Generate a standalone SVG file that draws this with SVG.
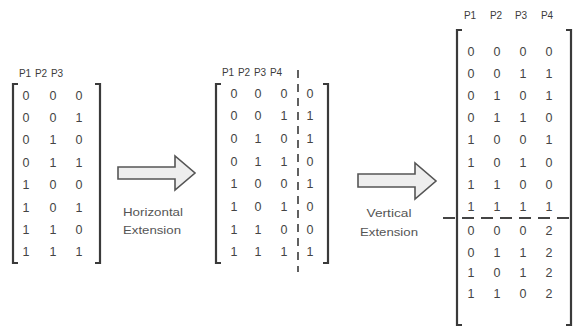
<svg xmlns="http://www.w3.org/2000/svg" width="576" height="328" viewBox="0 0 576 328">
<style>
.bg{fill:#ffffff}
.br{fill:none;stroke:#3a3a3a;stroke-width:2.2}
.hd{font-family:"Liberation Sans",Arial,sans-serif;font-size:10px;fill:#3c3c3c;text-anchor:middle}
.d{font-family:"Liberation Sans",Arial,sans-serif;font-size:12.5px;fill:#444;text-anchor:middle}
.lb{font-family:"Liberation Sans",Arial,sans-serif;font-size:10.5px;fill:#555;text-anchor:middle}
.ar{fill:#eeeeee;stroke:#555;stroke-width:1.6;stroke-linejoin:miter}
.dv{stroke:#3a3a3a;stroke-width:1.6;stroke-dasharray:8 6;fill:none}
.dh{stroke:#444;stroke-width:1.8;stroke-dasharray:12 7;fill:none}
</style>
<rect class="bg" x="0" y="0" width="576" height="328"/>

<g id="matrix-left">
  <path class="br" d="M18,84 H13 V263 H18"/>
  <path class="br" d="M95,84 H100 V263 H95"/>
  <text class="hd" x="25" y="77">P1</text>
  <text class="hd" x="41" y="77">P2</text>
  <text class="hd" x="57" y="77">P3</text>
  <g class="d">
    <text x="26" y="99.5">0</text><text x="53" y="99.5">0</text><text x="79" y="99.5">0</text>
    <text x="26" y="121.9">0</text><text x="53" y="121.9">0</text><text x="79" y="121.9">1</text>
    <text x="26" y="144.3">0</text><text x="53" y="144.3">1</text><text x="79" y="144.3">0</text>
    <text x="26" y="166.7">0</text><text x="53" y="166.7">1</text><text x="79" y="166.7">1</text>
    <text x="26" y="189.1">1</text><text x="53" y="189.1">0</text><text x="79" y="189.1">0</text>
    <text x="26" y="211.5">1</text><text x="53" y="211.5">0</text><text x="79" y="211.5">1</text>
    <text x="26" y="233.9">1</text><text x="53" y="233.9">1</text><text x="79" y="233.9">0</text>
    <text x="26" y="256.3">1</text><text x="53" y="256.3">1</text><text x="79" y="256.3">1</text>
  </g>
</g>

<g id="matrix-middle">
  <path class="br" d="M221,84 H216 V263 H221"/>
  <path class="br" d="M323,84 H328 V263 H323"/>
  <text class="hd" x="228" y="76">P1</text>
  <text class="hd" x="244" y="76">P2</text>
  <text class="hd" x="260" y="76">P3</text>
  <text class="hd" x="276" y="76">P4</text>
  <line class="dv" x1="298" y1="70" x2="298" y2="272"/>
  <g class="d">
    <text x="234" y="97.5">0</text><text x="258" y="97.5">0</text><text x="284" y="97.5">0</text><text x="310" y="97.5">0</text>
    <text x="234" y="120.2">0</text><text x="258" y="120.2">0</text><text x="284" y="120.2">1</text><text x="310" y="120.2">1</text>
    <text x="234" y="142.9">0</text><text x="258" y="142.9">1</text><text x="284" y="142.9">0</text><text x="310" y="142.9">1</text>
    <text x="234" y="165.6">0</text><text x="258" y="165.6">1</text><text x="284" y="165.6">1</text><text x="310" y="165.6">0</text>
    <text x="234" y="188.3">1</text><text x="258" y="188.3">0</text><text x="284" y="188.3">0</text><text x="310" y="188.3">1</text>
    <text x="234" y="211">1</text><text x="258" y="211">0</text><text x="284" y="211">1</text><text x="310" y="211">0</text>
    <text x="234" y="233.7">1</text><text x="258" y="233.7">1</text><text x="284" y="233.7">0</text><text x="310" y="233.7">0</text>
    <text x="234" y="256.4">1</text><text x="258" y="256.4">1</text><text x="284" y="256.4">1</text><text x="310" y="256.4">1</text>
  </g>
</g>

<g id="matrix-right">
  <path class="br" d="M462,30 H457 V325 H462"/>
  <path class="br" d="M566,30 H571 V325 H566"/>
  <text class="hd" x="470" y="19">P1</text>
  <text class="hd" x="496" y="19">P2</text>
  <text class="hd" x="521" y="19">P3</text>
  <text class="hd" x="547" y="19">P4</text>
  <line class="dh" x1="443" y1="218" x2="576" y2="218"/>
  <g class="d">
    <text x="471" y="55.5">0</text><text x="497" y="55.5">0</text><text x="523" y="55.5">0</text><text x="549" y="55.5">0</text>
    <text x="471" y="77.7">0</text><text x="497" y="77.7">0</text><text x="523" y="77.7">1</text><text x="549" y="77.7">1</text>
    <text x="471" y="99.9">0</text><text x="497" y="99.9">1</text><text x="523" y="99.9">0</text><text x="549" y="99.9">1</text>
    <text x="471" y="122.1">0</text><text x="497" y="122.1">1</text><text x="523" y="122.1">1</text><text x="549" y="122.1">0</text>
    <text x="471" y="144.3">1</text><text x="497" y="144.3">0</text><text x="523" y="144.3">0</text><text x="549" y="144.3">1</text>
    <text x="471" y="166.5">1</text><text x="497" y="166.5">0</text><text x="523" y="166.5">1</text><text x="549" y="166.5">0</text>
    <text x="471" y="188.7">1</text><text x="497" y="188.7">1</text><text x="523" y="188.7">0</text><text x="549" y="188.7">0</text>
    <text x="471" y="210.9">1</text><text x="497" y="210.9">1</text><text x="523" y="210.9">1</text><text x="549" y="210.9">1</text>
    <text x="471" y="234.5">0</text><text x="497" y="234.5">0</text><text x="523" y="234.5">0</text><text x="549" y="234.5">2</text>
    <text x="471" y="256.5">0</text><text x="497" y="256.5">1</text><text x="523" y="256.5">1</text><text x="549" y="256.5">2</text>
    <text x="471" y="276.5">1</text><text x="497" y="276.5">0</text><text x="523" y="276.5">1</text><text x="549" y="276.5">2</text>
    <text x="471" y="297.5">1</text><text x="497" y="297.5">1</text><text x="523" y="297.5">0</text><text x="549" y="297.5">2</text>
  </g>
</g>

<g id="connectors">
  <g id="arrow-horizontal">
    <path class="ar" d="M118,167 H175 V156 L195,173 L175,190 V179 H118 Z"/>
    <text class="lb" x="153" y="216" textLength="60" lengthAdjust="spacingAndGlyphs">Horizontal</text>
    <text class="lb" x="152" y="234" textLength="58" lengthAdjust="spacingAndGlyphs">Extension</text>
  </g>
  <g id="arrow-vertical">
    <path class="ar" d="M358,174 H415 V163 L436,181 L415,199 V187 H358 Z"/>
    <text class="lb" x="389" y="217" textLength="45" lengthAdjust="spacingAndGlyphs">Vertical</text>
    <text class="lb" x="389" y="236" textLength="58" lengthAdjust="spacingAndGlyphs">Extension</text>
  </g>
</g>
</svg>
